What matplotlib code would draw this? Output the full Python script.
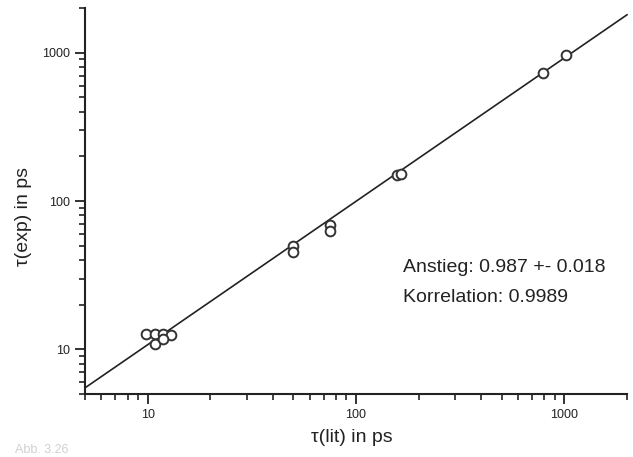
import matplotlib
matplotlib.use("Agg")
import matplotlib.pyplot as plt
from matplotlib.ticker import LogLocator, FixedLocator, NullFormatter

plt.rcParams['font.family'] = ['Liberation Sans', 'DejaVu Sans']

# data
tau_lit = [9.8, 10.8, 11.9, 12.9, 10.8, 11.8, 50, 50, 75, 75, 158, 164, 790, 1020]
tau_exp = [12.7, 12.7, 12.7, 12.5, 10.8, 11.7, 50, 45.6, 69, 63, 150, 151, 733, 960]
fit_x = [5, 2000]
fit_y = [5.5, 1800]
xlim = (5, 2000)
ylim = (5, 2000)
tick_vals = [10, 100, 1000]
tick_labels = ["10", "100", "1000"]

W, H = 633, 457
fig = plt.figure(figsize=(W / 100, H / 100), dpi=100)
ax = fig.add_axes([85 / W, 1 - 394 / H, (627 - 85) / W, (394 - 8) / H])
ax.set_xscale('log')
ax.set_yscale('log')
ax.plot(fit_x, fit_y, color='#222222', lw=1.2, zorder=2, clip_on=False)
ax.plot(tau_lit, tau_exp, 'o', mfc='white', mec='#333333', mew=1.4, ms=7, zorder=3)
ax.set_xlim(*xlim)
ax.set_ylim(*ylim)

for axis in (ax.xaxis, ax.yaxis):
    axis.set_major_locator(FixedLocator(tick_vals))
    axis.set_minor_locator(LogLocator(base=10, subs=range(2, 10)))
    axis.set_minor_formatter(NullFormatter())
ax.set_xticklabels(tick_labels)
ax.set_yticklabels(tick_labels)

for s in ('top', 'right'):
    ax.spines[s].set_visible(False)
for s in ('left', 'bottom'):
    ax.spines[s].set_linewidth(1.5)
    ax.spines[s].set_color('#222222')

ax.tick_params(which='major', direction='out', length=7, width=1.3, labelsize=9, colors='#222222', pad=4)
ax.tick_params(which='minor', direction='out', length=4, width=1.2, colors='#222222')

fig.text(352 / W, 1 - 437 / H, u"\u03c4(lit) in ps", fontsize=14, color='#222222',
         ha='center', va='center')
fig.text(24 / W, 1 - 217 / H, u"\u03c4(exp) in ps", fontsize=14, color='#222222',
         ha='center', va='center', rotation=90)

fig.text(403 / W, 1 - 268 / H, "Anstieg: 0.987 +- 0.018", fontsize=14, color='#222222',
         ha='left', va='center')
fig.text(403 / W, 1 - 298 / H, "Korrelation: 0.9989", fontsize=14, color='#222222',
         ha='left', va='center')

fig.text(15 / W, 1 / H, "Abb. 3.26", fontsize=9, color='#d0d0d0', ha='left', va='bottom')

fig.savefig("out.png", dpi=100)
